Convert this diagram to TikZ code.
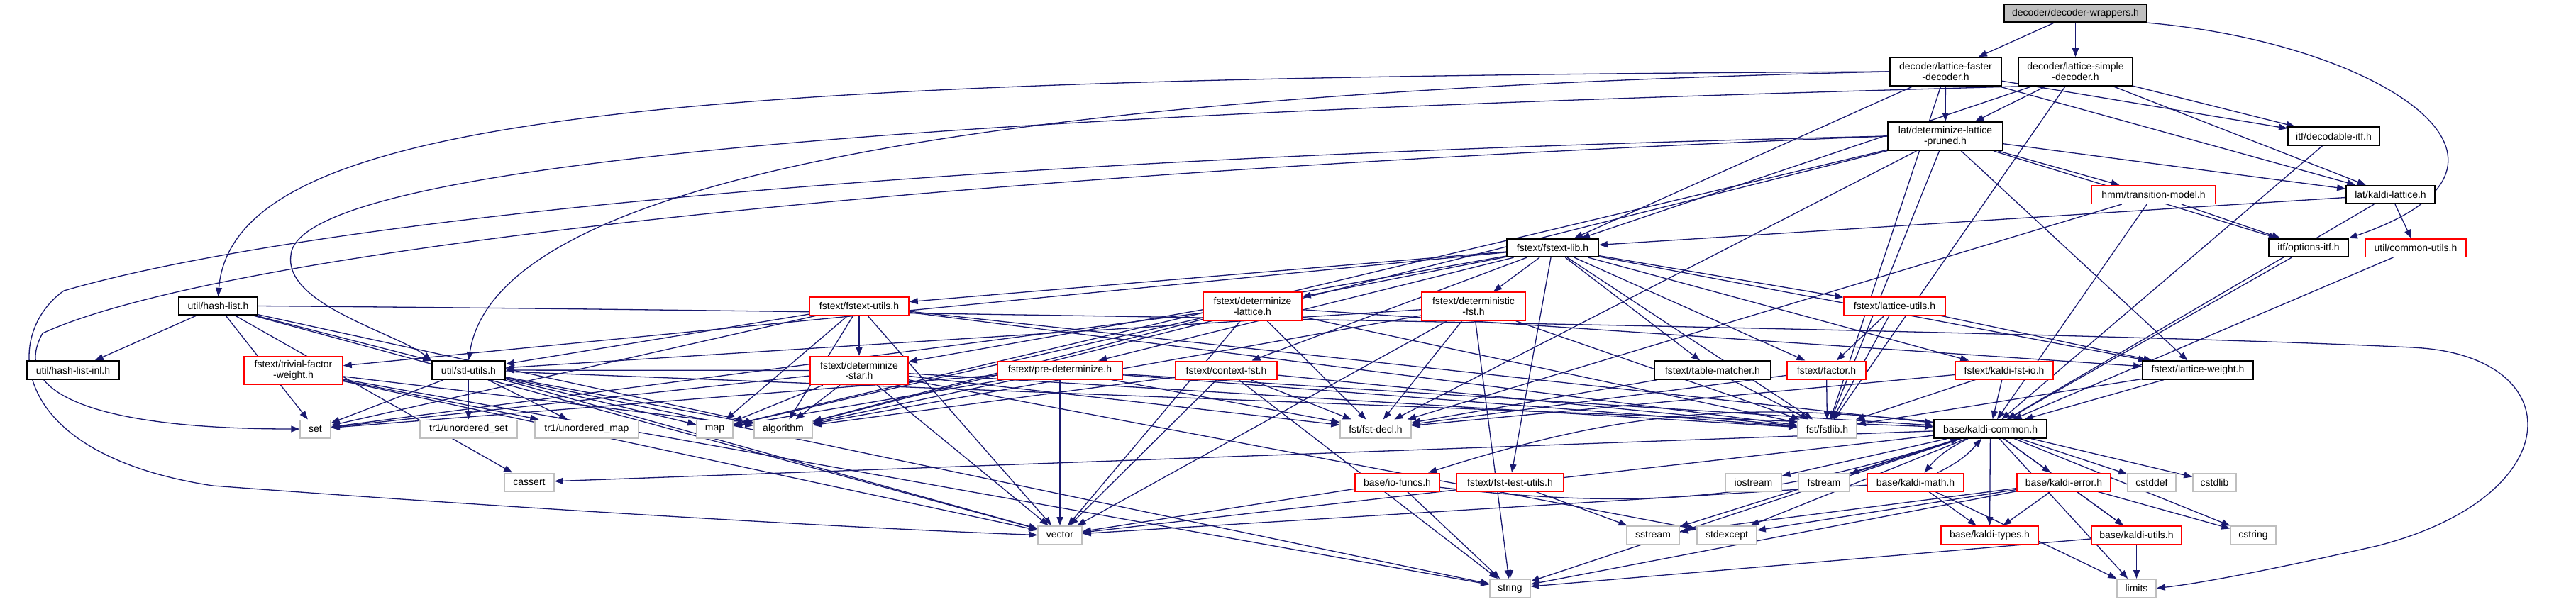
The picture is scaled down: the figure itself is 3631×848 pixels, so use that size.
\documentclass[tikz,border=0pt]{standalone}
\usepackage{fontspec}
\setmainfont{Liberation Sans}
\usetikzlibrary{arrows.meta}
\definecolor{edgec}{HTML}{191970}
\definecolor{grayb}{HTML}{BFBFBF}
\definecolor{redb}{HTML}{FF0000}
\pgfdeclarelayer{background}
\pgfsetlayers{background,main}
\begin{document}
\begin{tikzpicture}[x=0.5pt,y=-0.5pt,
  nd/.style={fill=white, inner sep=0pt, align=center, font=\fontsize{7}{7.4}\selectfont, minimum height=12.75pt},
  two/.style={minimum height=20pt},
  blk/.style={nd, draw=black, line width=0.9pt},
  rd/.style={nd, draw=redb, line width=0.75pt},
  gr/.style={nd, draw=grayb, line width=0.75pt},
  dep/.style={draw=edgec, line width=0.65pt, -{Triangle[length=6pt,width=4.5pt]}},
]
\useasboundingbox (0,0) rectangle (3631,848);

\node[blk, fill=grayb, minimum width=100.5pt] (dw) at (2925.5,18.5) {decoder/decoder-wrappers.h};
\node[blk, two, minimum width=78.5pt] (lfd) at (2742.5,101) {decoder/lattice-faster\\-decoder.h};
\node[blk, two, minimum width=80.5pt] (lsd) at (2925.5,101) {decoder/lattice-simple\\-decoder.h};
\node[blk, two, minimum width=81pt] (dlp) at (2742,192) {lat/determinize-lattice\\-pruned.h};
\node[blk, minimum width=64.5pt] (dec) at (3289.5,192) {itf/decodable-itf.h};
\node[rd, minimum width=87.5pt] (tm) at (3035.5,274.5) {hmm/transition-model.h};
\node[blk, minimum width=62.5pt] (klat) at (3369.5,274.5) {lat/kaldi-lattice.h};
\node[blk, minimum width=56pt] (opt) at (3254,349.5) {itf/options-itf.h};
\node[rd, minimum width=71pt] (cu) at (3405,349.5) {util/common-utils.h};
\node[blk, minimum width=64.5pt] (flib) at (2188.5,349.5) {fstext/fstext-lib.h};
\node[blk, minimum width=55.5pt] (hash) at (307.5,431.5) {util/hash-list.h};
\node[rd, minimum width=70pt] (futils) at (1211,431.5) {fstext/fstext-utils.h};
\node[rd, two, minimum width=69.5pt] (dlat) at (1765.5,432) {fstext/determinize\\-lattice.h};
\node[rd, two, minimum width=73pt] (dfst) at (2077,432) {fstext/deterministic\\-fst.h};
\node[rd, minimum width=71.5pt] (lutils) at (2670.5,431.5) {fstext/lattice-utils.h};
\node[blk, minimum width=65pt] (hashinl) at (103,522) {util/hash-list-inl.h};
\node[rd, two, minimum width=69.5pt] (trivial) at (413.5,522.5) {fstext/trivial-factor\\-weight.h};
\node[blk, minimum width=51.5pt] (stl) at (660.5,522) {util/stl-utils.h};
\node[rd, two, minimum width=69pt] (dstar) at (1211,522.5) {fstext/determinize\\-star.h};
\node[rd, minimum width=88pt] (predet) at (1494,522) {fstext/pre-determinize.h};
\node[rd, minimum width=71.5pt] (context) at (1728.5,522) {fstext/context-fst.h};
\node[blk, minimum width=82pt] (tmatch) at (2414,522) {fstext/table-matcher.h};
\node[rd, minimum width=55.5pt] (factor) at (2574.5,522) {fstext/factor.h};
\node[rd, minimum width=69pt] (kfstio) at (2825,522) {fstext/kaldi-fst-io.h};
\node[blk, minimum width=78pt] (lweight) at (3098,522) {fstext/lattice-weight.h};
\node[gr, minimum width=21.5pt] (set) at (444.5,605) {set};
\node[gr, minimum width=68.5pt] (uset) at (660.5,605) {tr1/unordered\_set};
\node[gr, minimum width=73pt] (umap) at (827,605) {tr1/unordered\_map};
\node[gr, minimum width=25.5pt] (map) at (1007.5,605) {map};
\node[gr, minimum width=41pt] (algo) at (1104,605) {algorithm};
\node[gr, minimum width=50pt] (fdecl) at (1939,605) {fst/fst-decl.h};
\node[gr, minimum width=41.5pt] (fstlib) at (2575.5,605) {fst/fstlib.h};
\node[blk, minimum width=79.5pt] (kcommon) at (2805.5,605) {base/kaldi-common.h};
\node[gr, minimum width=35pt] (cassert) at (746,680) {cassert};
\node[rd, minimum width=59.5pt] (iofuncs) at (1969.5,680) {base/io-funcs.h};
\node[rd, minimum width=75.5pt] (ftest) at (2128.5,680) {fstext/fst-test-utils.h};
\node[gr, minimum width=39.5pt] (iostream) at (2471.5,680) {iostream};
\node[gr, minimum width=36pt] (fstream) at (2571,680) {fstream};
\node[rd, minimum width=68pt] (kmath) at (2700,680) {base/kaldi-math.h};
\node[rd, minimum width=66pt] (kerror) at (2909,680) {base/kaldi-error.h};
\node[gr, minimum width=34pt] (cstddef) at (3033,680) {cstddef};
\node[gr, minimum width=30.5pt] (cstdlib) at (3121.5,680) {cstdlib};
\node[gr, minimum width=31pt] (vector) at (1494,754.5) {vector};
\node[gr, minimum width=37pt] (sstream) at (2330,754.5) {sstream};
\node[gr, minimum width=42pt] (stdexcept) at (2434,754.5) {stdexcept};
\node[rd, minimum width=68.5pt] (ktypes) at (2804.5,754.5) {base/kaldi-types.h};
\node[rd, minimum width=63.5pt] (kutils) at (3011.5,754.5) {base/kaldi-utils.h};
\node[gr, minimum width=32pt] (cstring) at (3176,754.5) {cstring};
\node[gr, minimum width=28.5pt] (string) at (2128.5,829.5) {string};
\node[gr, minimum width=27.5pt] (limits) at (3011.5,829.5) {limits};

\begin{pgfonlayer}{background}
% decoder-wrappers
\draw[dep] (dw) -- (lfd);
\draw[dep] (dw) -- (lsd);
\draw[dep] (dw.south east) .. controls (3350,60) and (3620,230) .. (opt.north east);
% lattice-faster-decoder
\draw[dep] (lfd) -- (dlp);
\draw[dep] (lfd) -- (dec);
\draw[dep] (lfd) -- (klat);
\draw[dep] (lfd) -- (flib);
\draw[dep] (lfd) -- (fstlib);
\draw[dep] (lfd.west) .. controls (1000,110) and (330,150) .. (hash.north);
\draw[dep] (lfd.west) .. controls (1400,130) and (700,250) .. (stl.north);
% lattice-simple-decoder
\draw[dep] (lsd) -- (dlp);
\draw[dep] (lsd) -- (dec);
\draw[dep] (lsd) -- (klat);
\draw[dep] (lsd) -- (flib);
\draw[dep] (lsd) -- (fstlib);
\draw[dep] (lsd.south west) .. controls (1800,150) and (420,200) .. (410,360) .. controls (400,430) and (560,470) .. (stl.north west);
% determinize-lattice-pruned
\draw[dep] (dlp) -- (fstlib);
\draw[dep] (dlp) -- (fdecl);
\draw[dep] (dlp) -- (algo);
\draw[dep] (dlp) -- (map);
\draw[dep] (dlp) -- (lweight);
\draw[dep] (dlp) -- (tm);
\draw[dep] (dlp) -- (opt);
\draw[dep] (dlp) -- (klat);
\draw[dep] (dlp.west) .. controls (1200,250) and (300,360) .. (60,470) .. controls (10,560) and (150,605) .. (set.west);
\draw[dep] (dlp.west) .. controls (1200,225) and (400,320) .. (90,410) .. controls (5,470) and (5,640) .. (300,685) .. controls (700,715) and (1200,745) .. (vector.west);
% transition-model, kaldi-lattice, itf
\draw[dep] (tm) -- (fdecl);
\draw[dep] (tm) -- (opt);
\draw[dep] (tm) -- (kcommon);
\draw[dep] (klat) -- (flib);
\draw[dep] (klat) -- (cu);
\draw[dep] (klat) -- (kcommon);
\draw[dep] (dec) -- (kcommon);
\draw[dep] (opt) -- (kcommon);
\draw[dep] (cu) -- (kcommon);
% fstext-lib
\draw[dep] (flib) -- (fstlib);
\draw[dep] (flib) -- (context);
\draw[dep] (flib) -- (dstar);
\draw[dep] (flib) -- (factor);
\draw[dep] (flib) -- (futils);
\draw[dep] (flib) -- (predet);
\draw[dep] (flib) -- (tmatch);
\draw[dep] (flib) -- (ftest);
\draw[dep] (flib) -- (trivial);
\draw[dep] (flib) -- (lweight);
\draw[dep] (flib) -- (lutils);
\draw[dep] (flib) -- (dlat);
\draw[dep] (flib) -- (dfst);
\draw[dep] (flib) -- (kfstio);
% hash-list
\draw[dep] (hash) -- (hashinl);
\draw[dep] (hash) -- (stl);
\draw[dep] (hash) -- (set);
\draw[dep] (hash) -- (cassert);
\draw[dep] (hash) -- (vector);
\draw[dep] (hash) -- (algo);
\draw[dep] (hash.east) .. controls (1500,440) and (3000,470) .. (3400,490) .. controls (3625,500) and (3625,700) .. (3350,770) .. controls (3150,815) and (3080,825) .. (limits.east);
% fstext-utils
\foreach \t in {algo,map,set,vector,fstlib,dstar,kcommon,stl} \draw[dep] (futils) -- (\t);
% determinize-lattice
\foreach \t in {fstlib,fdecl,algo,map,set,vector,lweight} \draw[dep] (dlat) -- (\t);
% deterministic-fst
\foreach \t in {algo,string,vector,fstlib,fdecl,stl} \draw[dep] (dfst) -- (\t);
% lattice-utils
\foreach \t in {factor,fstlib,lweight} \draw[dep] (lutils) -- (\t);
% trivial-factor-weight
\foreach \t in {algo,umap,string,vector} \draw[dep] (trivial) -- (\t);
% stl-utils
\foreach \t in {algo,map,set,string,vector,umap,uset,kcommon} \draw[dep] (stl) -- (\t);
% determinize-star
\foreach \t in {fstlib,fdecl,algo,map,set,stdexcept,vector,stl} \draw[dep] (dstar) -- (\t);
% pre-determinize
\foreach \t in {fdecl,fstlib,algo,map,set,vector,kcommon} \draw[dep] (predet) -- (\t);
% context-fst
\foreach \t in {algo,string,vector,fstlib,fdecl} \draw[dep] (context) -- (\t);
% table-matcher, factor, kaldi-fst-io, lattice-weight
\foreach \t in {fdecl,fstlib} \draw[dep] (tmatch) -- (\t);
\foreach \t in {fstlib,fdecl} \draw[dep] (factor) -- (\t);
\foreach \t in {fdecl,fstlib,kcommon} \draw[dep] (kfstio) -- (\t);
\foreach \t in {fstlib,kcommon} \draw[dep] (lweight) -- (\t);
% kaldi-common
\foreach \t in {cstddef,cstdlib,cstring,limits,string,vector,iostream,sstream,stdexcept,cassert,fstream,kutils,kerror,ktypes} \draw[dep] (kcommon) -- (\t);
\draw[dep] (kcommon) to[bend right=12] (iofuncs);
\draw[dep] (kcommon) to[bend right=12] (kmath);
% kaldi-math
\draw[dep] (kmath) to[bend right=12] (kcommon);
\foreach \t in {ktypes,limits,vector} \draw[dep] (kmath) -- (\t);
% kaldi-error
\foreach \t in {ktypes,kutils,cstring,string,sstream,stdexcept} \draw[dep] (kerror) -- (\t);
% kaldi-utils
\foreach \t in {limits,string} \draw[dep] (kutils) -- (\t);
% io-funcs
\foreach \t in {string,vector} \draw[dep] (iofuncs) -- (\t);
\draw[dep] (iofuncs) to[bend right=12] (kcommon);
% fst-test-utils
\foreach \t in {string,sstream} \draw[dep] (ftest) -- (\t);
\end{pgfonlayer}
\end{tikzpicture}
\end{document}
